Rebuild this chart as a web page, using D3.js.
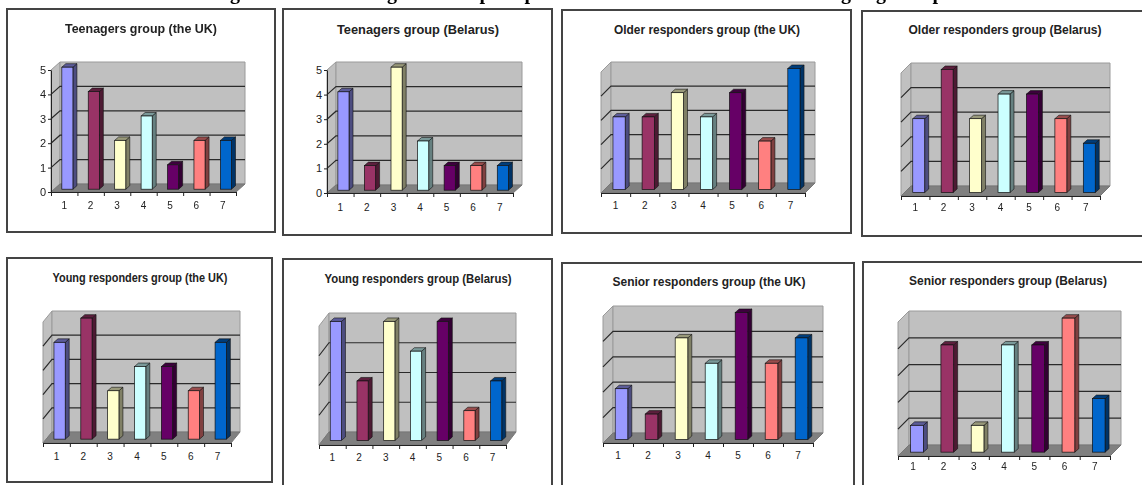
<!DOCTYPE html>
<html>
<head>
<meta charset="utf-8">
<script src="https://cdn.jsdelivr.net/npm/d3@7"></script>
<style>
html,body{margin:0;padding:0;background:#fff;overflow:hidden}
svg{display:block;filter:blur(0.35px)}
text{font-family:"Liberation Sans",Arial,sans-serif;fill:#111}
</style>
</head>
<body>
<svg id="chart" width="1142" height="485"></svg>
<script>
// ---------- data ----------
const categories = ["1","2","3","4","5","6","7"];
const barColors = ["#9999ff","#993366","#ffffcc","#ccffff","#660066","#ff8080","#0066cc"];

const titles = [
  "Teenagers group (the UK)", "Teenagers group (Belarus)",
  "Older responders group (the UK)", "Older responders group (Belarus)",
  "Young responders group (the UK)", "Young responders group (Belarus)",
  "Senior responders group (the UK)", "Senior responders group (Belarus)"
];

const teenagersUK      = [5,4,2,3,1,2,2];
const teenagersBelarus = [4,1,5,2,1,1,1];
const olderUK          = [3,3,4,3,4,2,5];
const olderBelarus     = [3,5,3,4,4,3,2];
const youngUK          = [4,5,2,3,3,2,4];
const youngBelarus     = [4,2,4,3,4,1,2];
const seniorUK         = [2,1,4,3,5,3,4];
const seniorBelarus    = [1,4,1,4,4,5,2];

const seriesList = [teenagersUK, teenagersBelarus, olderUK, olderBelarus,
                    youngUK, youngBelarus, seniorUK, seniorBelarus];
const axisMaxes  = [5,5,5,5,5,4,5,5];
const valueLabels = [true,true,false,false,false,false,false,false];

// The page title is cut off by the top edge: only these descenders can be read.
const clippedTitleLetters = ["g","g","p","p","g","g","p"];

// ---------- layout (frame, title, plot box) ----------
const layouts = [
  {f:[7,9,268,223],    tx:141, ty:28,  tw:152, fx:51,  fy:192, w:185, h:122, dx:9,  dy:-8,  ly:207},
  {f:[283,9,269,226],  tx:418, ty:29,  tw:162, fx:327, fy:193, w:186, h:123, dx:9,  dy:-8,  ly:209},
  {f:[562,10,289,223], tx:707, ty:29,  tw:186, fx:601, fy:193, w:204, h:121, dx:10, dy:-10, ly:207},
  {f:[862,11,290,225], tx:1005,ty:29,  tw:193, fx:901, fy:196, w:199, h:123, dx:10, dy:-10, ly:209},
  {f:[7,258,265,224],  tx:140, ty:277, tw:175, fx:43,  fy:443, w:188, h:121, dx:9,  dy:-11, ly:458},
  {f:[283,259,269,230],tx:418, ty:278, tw:187, fx:319, fy:445, w:187, h:119, dx:10, dy:-13, ly:459},
  {f:[562,263,292,230],tx:709, ty:281, tw:193, fx:603, fy:443, w:210, h:127, dx:10, dy:-10, ly:457},
  {f:[863,262,290,230],tx:1008,ty:280, tw:198, fx:898, fy:456, w:212, h:134, dx:11, dy:-11, ly:468}
];
const clippedTitleX = [235,392,485,530,846,881,938];

const svg = d3.select("#chart");

svg.selectAll("text.clipped").data(clippedTitleLetters).join("text")
  .attr("class","clipped")
  .attr("x",(d,i)=>clippedTitleX[i]).attr("y",-1)
  .attr("text-anchor","middle")
  .style("font-family","'Liberation Serif',serif")
  .style("font-weight","bold").style("font-size","20px").style("fill","#000")
  .text(d=>d);

const shade = (c,k)=>{const r=d3.rgb(c);return d3.rgb(r.r*k,r.g*k,r.b*k).formatHex();};
const pts = a=>a.map(p=>p.join(",")).join(" ");

layouts.forEach((L,idx)=>{
  const values = seriesList[idx], max = axisMaxes[idx];
  const g = svg.append("g");

  g.append("rect").attr("x",L.f[0]).attr("y",L.f[1]).attr("width",L.f[2]).attr("height",L.f[3])
    .attr("fill","#fff").attr("stroke","#444").attr("stroke-width",2);

  g.append("text").attr("x",L.tx).attr("y",L.ty).attr("dy","0.35em")
    .attr("text-anchor","middle")
    .attr("textLength",L.tw).attr("lengthAdjust","spacingAndGlyphs")
    .style("font-weight","bold").style("font-size","13px").style("fill","#222").text(titles[idx]);

  const x = d3.scaleBand().domain(categories).range([L.fx,L.fx+L.w]).paddingInner(0.58).paddingOuter(0.29);
  const xEdge = d3.scaleLinear().domain([0,categories.length]).range([L.fx,L.fx+L.w]);
  const y = d3.scaleLinear().domain([0,max]).range([L.fy,L.fy-L.h]);

  const {fx,fy,w,h,dx,dy} = L;
  // side wall, back wall, floor
  g.append("polygon").attr("points",pts([[fx,fy],[fx+dx,fy+dy],[fx+dx,fy+dy-h],[fx,fy-h]]))
    .attr("fill","#c0c0c0").attr("stroke","#9a9a9a");
  g.append("polygon").attr("points",pts([[fx+dx,fy+dy],[fx+dx+w,fy+dy],[fx+dx+w,fy+dy-h],[fx+dx,fy+dy-h]]))
    .attr("fill","#c0c0c0").attr("stroke","#9a9a9a");
  g.append("polygon").attr("points",pts([[fx,fy],[fx+w,fy],[fx+w+dx,fy+dy],[fx+dx,fy+dy]]))
    .attr("fill","#808080").attr("stroke","#777");

  // gridlines across both walls
  const gridValues = d3.range(1,max);
  g.selectAll("polyline.grid").data(gridValues).join("polyline").attr("class","grid")
    .attr("points",v=>pts([[fx,y(v)],[fx+dx,y(v)+dy],[fx+dx+w,y(v)+dy]]))
    .attr("fill","none").attr("stroke","#2a2a2a").attr("stroke-width",1.2);

  // bars
  const barDX = 4, barDY = -3.5;
  const shiftX = dx*0.35, shiftY = dy*0.35;
  const bars = g.selectAll("g.bar").data(values).join("g").attr("class","bar");
  const bx = (d,i)=>x(categories[i])+shiftX;
  const bw = x.bandwidth();
  const by = d=>y(d)+shiftY;
  const base = y(0)+shiftY;
  bars.append("polygon")
    .attr("points",(d,i)=>pts([[bx(d,i)+bw,by(d)],[bx(d,i)+bw+barDX,by(d)+barDY],[bx(d,i)+bw+barDX,base+barDY],[bx(d,i)+bw,base]]))
    .attr("fill",(d,i)=>shade(barColors[i],0.5)).attr("stroke","#111").attr("stroke-width",0.6);
  bars.append("polygon")
    .attr("points",(d,i)=>pts([[bx(d,i),by(d)],[bx(d,i)+barDX,by(d)+barDY],[bx(d,i)+bw+barDX,by(d)+barDY],[bx(d,i)+bw,by(d)]]))
    .attr("fill",(d,i)=>shade(barColors[i],0.6)).attr("stroke","#111").attr("stroke-width",0.6);
  bars.append("rect")
    .attr("x",bx).attr("y",by).attr("width",bw).attr("height",d=>base-by(d))
    .attr("fill",(d,i)=>barColors[i]).attr("stroke","#111").attr("stroke-width",0.7);

  // axes
  const axisStyle = s=>{
    s.select(".domain").attr("stroke","#222");
    s.selectAll(".tick line").attr("stroke","#222");
    s.selectAll("text").style("font-size","10px").style("fill","#222")
      .style("font-family","'Liberation Sans',Arial,sans-serif");
  };
  g.append("g").attr("transform",`translate(0,${fy})`)
    .call(d3.axisBottom(xEdge).tickValues(d3.range(0,categories.length+1)).tickFormat("").tickSize(4).tickSizeOuter(0))
    .call(axisStyle);
  const xLabels = g.append("g").attr("transform",`translate(0,${fy})`)
    .call(d3.axisBottom(x).tickSize(0).tickPadding(L.ly-fy-5))
    .call(axisStyle);
  xLabels.select(".domain").remove();

  if(valueLabels[idx]){
    const yAxis = d3.axisLeft(y).ticks(max).tickSize(3).tickSizeOuter(0).tickPadding(2);
    const yG = g.append("g").attr("transform",`translate(${fx},0)`).call(yAxis).call(axisStyle);
    yG.selectAll("text").style("font-size","11px");
  }
});
</script>
</body>
</html>
